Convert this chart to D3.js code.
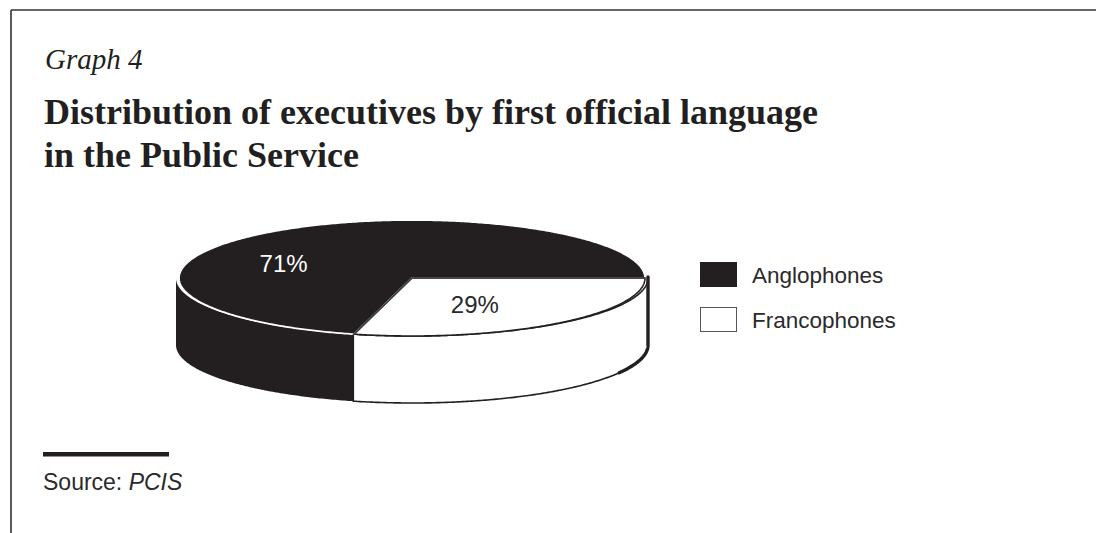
<!DOCTYPE html>
<html>
<head>
<meta charset="utf-8">
<script src="https://cdn.jsdelivr.net/npm/d3@7"></script>
<style>
  html, body { margin: 0; padding: 0; background: #fff; }
  svg { display: block; }
</style>
</head>
<body>
<svg id="chart" width="1096" height="533"></svg>
<script>
// Executives by first official language (percent)
const categories = ["Anglophones", "Francophones"];
const values = [71, 29];
const valueLabels = ["71%", "29%"];
const fills = ["#231f20", "#ffffff"];

const titleKicker = "Graph 4";
const titleLines = ["Distribution of executives by first official language", "in the Public Service"];
const sourceLabel = "Source: ";
const sourceName = "PCIS";

const ink = "#231f20";
const svg = d3.select("#chart");

// Frame: top rule and left rule
svg.append("line").attr("x1", 11).attr("x2", 1096).attr("y1", 10).attr("y2", 10)
  .attr("stroke", "#333").attr("stroke-width", 1.6);
svg.append("line").attr("x1", 11).attr("x2", 11).attr("y1", 10).attr("y2", 533)
  .attr("stroke", "#333").attr("stroke-width", 1.6);

// Headings
svg.append("text").attr("x", 45).attr("y", 69)
  .attr("font-family", "'Liberation Serif', serif").attr("font-style", "italic")
  .attr("font-size", 29).attr("fill", ink).text(titleKicker);
svg.selectAll("text.title").data(titleLines).join("text")
  .attr("class", "title")
  .attr("x", 44).attr("y", (d, i) => 124 + i * 43)
  .attr("font-family", "'Liberation Serif', serif").attr("font-weight", "bold")
  .attr("font-size", 36).attr("fill", ink).text(d => d);

// 3D pie geometry
const cx = 412, cy = 278;        // centre of the top face
const rx = 233, ry = 58;         // top face radii
const wallRx = 236;              // side wall radius (slightly wider)
const depth = 67;

// d3 angle (0 = 12 o'clock, clockwise) -> point on an ellipse
const pt = (a, ex, ey, ccy) => [cx + ex * Math.sin(a), ccy - ey * Math.cos(a)];

const pie = d3.pie().sortValues((a, b) => a - b)
  .startAngle(Math.PI / 2).endAngle(Math.PI / 2 + 2 * Math.PI);
const arcs = pie(values);   // arcs[i] matches categories[i]

const line = d3.line();

function arcPoints(a0, a1, ex, ey, ccy) {
  const n = Math.max(2, Math.ceil(Math.abs(a1 - a0) / 0.01));
  return d3.range(n + 1).map(k => pt(a0 + (a1 - a0) * k / n, ex, ey, ccy));
}

// Side walls: only the front half (d3 angles PI/2 .. 3PI/2) is visible
const frontStart = Math.PI / 2, frontEnd = 3 * Math.PI / 2;
function wallPath(d) {
  const lo = Math.max(d.startAngle, frontStart), hi = Math.min(d.endAngle, frontEnd);
  if (hi <= lo) return null;
  const top = arcPoints(lo, hi, wallRx, ry, cy);
  const bottom = arcPoints(hi, lo, wallRx, ry, cy + depth);
  return line(top.concat(bottom)) + "Z";
}
function wallSegments(d) {
  const out = [];
  for (const shift of [0, -2 * Math.PI]) {
    const p = wallPath({ startAngle: d.startAngle + shift, endAngle: d.endAngle + shift });
    if (p) out.push(p);
  }
  return out;
}

const walls = svg.append("g");
arcs.forEach((d, i) => {
  wallSegments(d).forEach(p => {
    walls.append("path").attr("d", p)
      .attr("fill", fills[i])
      .attr("stroke", i === 0 ? "none" : ink)
      .attr("stroke-width", 1.6)
      .attr("stroke-linejoin", "round");
  });
});

// heavier edge on the right side of the white wall
const fr = arcs[1];
const edgeA1 = Math.min(fr.endAngle, fr.startAngle + 0.5);
const edgePts = [pt(fr.startAngle, wallRx, ry, cy - 1)].concat(arcPoints(fr.startAngle, edgeA1, wallRx, ry, cy + depth));
walls.append("path").attr("d", line(edgePts))
  .attr("fill", "none").attr("stroke", ink).attr("stroke-width", 3.4)
  .attr("stroke-linecap", "round");

// Top faces
const tops = svg.append("g");
arcs.forEach((d, i) => {
  const pts = [[cx, cy]].concat(arcPoints(d.startAngle, d.endAngle, rx, ry, cy));
  tops.append("path").attr("d", line(pts) + "Z")
    .attr("fill", fills[i])
    .attr("stroke", i === 0 ? "#ffffff" : ink)
    .attr("stroke-width", i === 0 ? 1.8 : 1.6)
    .attr("stroke-linejoin", "miter");
});
// inner edges of the white face
const fw = arcs[1];
tops.append("path")
  .attr("d", line([pt(fw.startAngle, rx, ry, cy), [cx, cy], pt(fw.endAngle, rx, ry, cy)]))
  .attr("fill", "none").attr("stroke", "#444").attr("stroke-width", 1.4);

// Value labels, placed relative to each slice's mid-angle on the top face
const labelReach = [0.92, 0.44];
const labelDy = [36, 15];
svg.selectAll("text.value").data(arcs).join("text")
  .attr("class", "value")
  .attr("x", (d, i) => pt((d.startAngle + d.endAngle) / 2, rx * labelReach[i], ry, cy)[0] + (i === 0 ? 3 : 0))
  .attr("y", (d, i) => pt((d.startAngle + d.endAngle) / 2, rx, ry * labelReach[i], cy)[1] + labelDy[i])
  .attr("text-anchor", "middle")
  .attr("font-family", "'Liberation Sans', Arial, sans-serif")
  .attr("font-size", 24)
  .attr("fill", (d, i) => i === 0 ? "#ffffff" : "#2a2a2a")
  .text((d, i) => valueLabels[i]);

// Legend
const legend = svg.append("g").attr("transform", "translate(700,262)");
const items = legend.selectAll("g").data(categories).join("g")
  .attr("transform", (d, i) => `translate(0,${i * 45})`);
items.append("rect").attr("x", 0.5).attr("y", 0.5).attr("width", 36).attr("height", 24)
  .attr("fill", (d, i) => fills[i])
  .attr("stroke", (d, i) => i === 0 ? ink : "#555").attr("stroke-width", 1);
items.append("text").attr("x", 52).attr("y", 21)
  .attr("font-family", "'Liberation Sans', Arial, sans-serif")
  .attr("font-size", 22.5).attr("fill", "#2a2a2a").text(d => d);

// Source note
svg.append("rect").attr("x", 43).attr("y", 452).attr("width", 126).attr("height", 4.5).attr("fill", ink);
const src = svg.append("text").attr("x", 43).attr("y", 490)
  .attr("font-family", "'Liberation Sans', Arial, sans-serif")
  .attr("font-size", 23).attr("fill", "#2a2a2a");
src.append("tspan").text(sourceLabel);
src.append("tspan").attr("font-style", "italic").text(sourceName);
</script>
</body>
</html>
